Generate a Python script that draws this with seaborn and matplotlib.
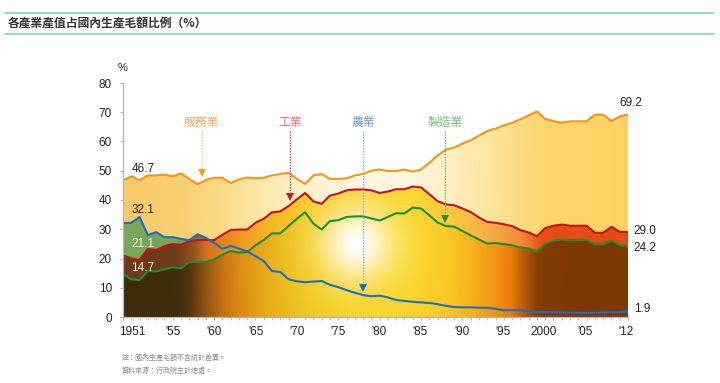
import numpy as np
import pandas as pd
import matplotlib
matplotlib.use("Agg")
import matplotlib.pyplot as plt
from matplotlib.colors import to_rgb
from matplotlib.lines import Line2D
import seaborn as sns

# ---------------- data ----------------
years = list(range(1951, 2013))
services = [46.7, 48.1, 46.8, 48.4, 48.4, 48.7, 48.1, 49.1, 47.2, 45.4,
            46.8, 47.6, 47.6, 45.8, 47.0, 47.7, 47.4, 47.6, 48.4, 48.9,
            49.3, 47.2, 45.5, 48.4, 48.9, 47.2, 47.2, 47.4, 48.4, 48.9,
            50.0, 50.4, 49.9, 49.9, 50.4, 49.7, 50.4, 52.7, 55.2, 57.2,
            57.9, 59.3, 60.4, 62.0, 63.6, 64.4, 65.5, 66.4, 67.6, 68.9,
            70.3, 67.7, 67.0, 66.4, 66.9, 66.9, 66.9, 69.2, 69.2, 67.0,
            68.6, 69.2]
industry = [21.1, 20.0, 19.5, 23.3, 22.9, 24.2, 24.9, 24.7, 25.9, 26.3,
            26.3, 26.3, 28.1, 29.7, 29.9, 29.9, 32.2, 33.6, 35.8, 36.1,
            37.9, 40.2, 42.4, 39.5, 38.7, 41.5, 42.2, 43.3, 43.6, 43.6,
            43.3, 42.4, 42.9, 43.7, 43.7, 44.6, 44.3, 42.0, 39.6, 38.5,
            38.2, 37.1, 35.9, 34.0, 32.5, 32.2, 31.7, 31.1, 29.7, 28.9,
            27.6, 30.4, 31.2, 31.6, 31.2, 31.2, 31.2, 28.8, 28.8, 30.8,
            29.1, 29.0]
manufacturing = [14.7, 12.9, 12.6, 15.7, 15.6, 16.3, 17.0, 16.6, 18.8, 18.8,
                 18.8, 19.7, 21.3, 22.6, 22.0, 22.2, 24.5, 26.3, 28.6, 28.6,
                 31.1, 33.6, 35.8, 31.9, 29.9, 32.8, 33.1, 34.2, 34.4, 34.4,
                 33.7, 33.0, 34.2, 35.5, 35.4, 37.4, 37.1, 34.8, 32.3, 31.1,
                 30.9, 29.4, 27.9, 26.5, 25.1, 25.3, 24.9, 24.5, 23.8, 23.4,
                 22.5, 24.9, 26.1, 26.5, 26.3, 26.3, 26.3, 24.9, 24.8, 26.1,
                 24.6, 24.2]
agriculture = [32.1, 32.2, 34.2, 28.0, 29.0, 27.3, 27.3, 26.7, 26.3, 28.3,
               27.1, 25.4, 23.3, 24.3, 23.4, 22.4, 20.8, 19.1, 15.7, 15.4,
               12.9, 12.2, 11.9, 12.1, 12.3, 11.0, 10.2, 9.2, 8.3, 7.5,
               7.1, 7.3, 6.7, 5.8, 5.5, 5.2, 5.0, 4.8, 4.4, 3.8,
               3.4, 3.3, 3.3, 3.2, 3.1, 2.8, 2.3, 2.3, 2.3, 1.9,
               1.7, 1.7, 1.6, 1.6, 1.5, 1.5, 1.4, 1.5, 1.6, 1.6,
               1.7, 1.9]
series_names = ["服務業", "工業", "製造業", "農業"]
x_tick_labels = ["1951", "'55", "'60", "'65", "'70", "'75", "'80", "'85",
                 "'90", "'95", "2000", "'05", "'12"]
y_ticks = [0, 10, 20, 30, 40, 50, 60, 70, 80]
title = "各產業產值占國內生產毛額比例（%）"
notes = ["註：國內生產毛額不含統計差異。", "資料來源：行政院主計總處。"]

# ---------------- style ----------------
sns.set_theme(style="white")
plt.rcParams["font.family"] = ["Liberation Sans", "Noto Sans CJK TC", "DejaVu Sans"]
CJK = ["Noto Sans CJK TC", "DejaVu Sans"]

line_colors = {"服務業": "#f2961c", "工業": "#c4131d", "製造業": "#1f8d2e", "農業": "#1a6fc4"}

W, H = 720, 383
fig = plt.figure(figsize=(W / 100, H / 100), dpi=100)
ax_l, ax_r, ax_b, ax_t = 123, 628, 317, 83
ax = fig.add_axes([ax_l / W, 1 - ax_b / H, (ax_r - ax_l) / W, (ax_b - ax_t) / H])

x0, x1 = years[0], years[-1]
ax.set_xlim(x0, x1)
ax.set_ylim(0, 80)

# ---------------- gradient fills ----------------
ppy = (ax_r - ax_l) / (x1 - x0)   # px per year
ppv = (ax_b - ax_t) / 80.0        # px per unit
nx, ny = 700, 400
gx = np.linspace(x0, x1, nx)
gy = np.linspace(0, 80, ny)
GX, GY = np.meshgrid(gx, gy)
d2 = ((GX - 1979.3) * ppy) ** 2 + ((GY - 25) * ppv) ** 2
white_a = 0.98 * np.exp(-d2 / 36.0 ** 2)
yellow_b = 0.5 * np.exp(-d2 / 90.0 ** 2)


def ramp(stops):
    pos = [s[0] for s in stops]
    cols = np.array([to_rgb(s[1]) for s in stops])
    row = np.stack([np.interp(gx, pos, cols[:, i]) for i in range(3)], axis=-1)
    return np.repeat(row[None, :, :], ny, axis=0)


def glow(img, strength=1.0):
    yel = np.array(to_rgb("#ffe03a"))
    b = (yellow_b * strength)[..., None]
    a = (white_a * strength)[..., None]
    img = img * (1 - b) + yel * b
    img = img * (1 - a) + 1.0 * a
    return np.clip(img, 0, 1)


services_img = glow(ramp([(1951, "#f8ca68"), (1958, "#f9d072"), (1963, "#fbdb88"),
                          (1968, "#fde8b0"), (1973, "#fff3d8"), (1980, "#fffaf0"),
                          (1986, "#fff8ea"), (1990, "#fff0cc"), (1994, "#fee8aa"),
                          (1998, "#fdde88"), (2002, "#fcd66c"), (2012, "#fcd362")]), 0.3)
agri_img = ramp([(1951, "#79a758"), (1957.5, "#7aa558"), (1959.5, "#8a6c34"),
                 (1962, "#b0702a"), (2012, "#b0702a")])
industry_img = glow(ramp([(1951, "#6c3a19"), (1957.5, "#6e3b18"), (1959.5, "#93501a"),
                          (1961, "#cf6e1c"), (1963, "#e27e1c"), (1966, "#f29a1e"),
                          (1970, "#f8b420"), (1975, "#fcc824"), (1986, "#fdd52e"),
                          (1990, "#fcc83a"), (1993, "#f8b844"), (1996, "#f5a442"),
                          (1999, "#f08a36"), (2000.5, "#ea6a22"), (2001.6, "#e54f15"),
                          (2012, "#e44a12")]))
manuf_img = glow(ramp([(1951, "#3d2b0a"), (1957.5, "#3e2b0a"), (1959.2, "#55340e"),
                       (1961, "#8e5412"), (1963, "#c26c12"), (1965, "#d9830f"),
                       (1968, "#e3a014"), (1972, "#ebbb1a"), (1976, "#f1ca22"),
                       (1985, "#f7d428"), (1990, "#f8c622"), (1993, "#f6b01a"),
                       (1996, "#f29010"), (1998, "#e87808"), (1999.6, "#b45608"),
                       (2001, "#8a4002"), (2002, "#7e3800"), (2012, "#7d3800")]))

layers = [(services, services_img, 1), (agriculture, agri_img, 2),
          (industry, industry_img, 3), (manufacturing, manuf_img, 4)]
for vals, img, z in layers:
    poly = ax.fill_between(years, 0, vals, facecolor="none", edgecolor="none")
    im = ax.imshow(img, extent=(x0, x1, 0, 80), origin="lower", aspect="auto",
                   interpolation="bilinear", zorder=z)
    im.set_clip_path(poly.get_paths()[0], transform=ax.transData)

# ---------------- lines (seaborn) ----------------
df = pd.DataFrame({
    "year": years * 4,
    "value": services + industry + manufacturing + agriculture,
    "series": sum([[n] * len(years) for n in series_names], []),
})
sns.lineplot(data=df, x="year", y="value", hue="series", hue_order=series_names,
             palette=line_colors, legend=False, linewidth=1.5, ax=ax, zorder=6)
for ln in ax.lines:
    ln.set_solid_joinstyle("round")

ax.set_xlim(x0, x1)
ax.set_ylim(0, 80)
ax.set_xlabel("")
ax.set_ylabel("")

# ---------------- axes styling ----------------
for s in ["top", "right"]:
    ax.spines[s].set_visible(False)
for s in ["left", "bottom"]:
    ax.spines[s].set_color("#b5b5b5")
    ax.spines[s].set_linewidth(0.9)
    ax.spines[s].set_zorder(7)

ax.set_yticks(y_ticks)
ax.set_yticklabels([str(v) for v in y_ticks])
ax.tick_params(axis="y", which="major", length=2.5, width=0.8, color="#b0b0b0",
               direction="out", pad=5.5, labelsize=8.5, labelcolor="#222222", left=True)
label_pos = np.linspace(1952.1, 2011.8, len(x_tick_labels))
ax.set_xticks(label_pos)
ax.set_xticklabels(x_tick_labels)
ax.set_xticks(years, minor=True)
ax.tick_params(axis="x", which="major", length=0, pad=6.5, labelsize=8.5,
               labelcolor="#222222")
ax.tick_params(axis="x", which="minor", length=2.5, width=0.6, color="#b0b0b0",
               direction="out", bottom=True)
ax.grid(False)

ax.text(x0, 83.5, "%", ha="center", va="bottom", fontsize=8, color="#222222",
        clip_on=False)

# ---------------- end value labels ----------------
lbl_kw = dict(fontsize=8.5, va="center", zorder=8, clip_on=False)
ax.text(x0 + 1.0, services[0] + 3.9, f"{services[0]:.1f}", color="#222222", ha="left", **lbl_kw)
ax.text(x0 + 1.0, agriculture[0] + 4.5, f"{agriculture[0]:.1f}", color="#222222", ha="left", **lbl_kw)
ax.text(x0 + 1.0, industry[0] + 3.9, f"{industry[0]:.1f}", color="#f4f4e8", ha="left", **lbl_kw)
ax.text(x0 + 1.0, manufacturing[0] + 2.1, f"{manufacturing[0]:.1f}", color="#f4f4e8", ha="left", **lbl_kw)
ax.text(x1 + 0.3, services[-1] + 4.1, f"{services[-1]:.1f}", color="#222222", ha="center", **lbl_kw)
ax.text(x1 + 0.7, industry[-1] + 0.5, f"{industry[-1]:.1f}", color="#222222", ha="left", **lbl_kw)
ax.text(x1 + 0.7, manufacturing[-1] - 0.5, f"{manufacturing[-1]:.1f}", color="#222222", ha="left", **lbl_kw)
ax.text(x1 + 0.7, agriculture[-1] + 0.7, f"{agriculture[-1]:.1f}", color="#222222", ha="left", **lbl_kw)

# ---------------- series annotations with dotted arrows ----------------
ann = [
    ("服務業", 1960.5, 49.3, "#f5a862", "#f7bf6a", "#f0a028"),
    ("工業", 1971.2, 41.1, "#e8707a", "#cc3a44", "#c41820"),
    ("農業", 1980.0, 10.0, "#6a9ad0", "#88b6e2", "#1a6cc0"),
    ("製造業", 1989.9, 33.5, "#72c27a", "#6cba70", "#21902d"),
]
for name, xx, head_y, tcol, scol, hcol in ann:
    ax.text(xx, 66.6, name, ha="center", va="center", fontsize=8.5, color=tcol,
            family=CJK, zorder=9)
    ax.plot([xx, xx], [63.6, head_y + 0.8], linestyle=(0, (1, 1)), color=scol,
            linewidth=1.0, zorder=9)
    ax.plot([xx], [head_y], marker="v", markersize=6, color=hcol,
            markeredgewidth=0, zorder=9)

# ---------------- title, rules, notes ----------------
fig.add_artist(Line2D([5 / W, 714 / W], [1 - 13 / H] * 2, color="#8fd5c7", linewidth=1.3))
fig.add_artist(Line2D([5 / W, 714 / W], [1 - 34 / H] * 2, color="#8fd5c7", linewidth=1.3))
fig.text(8 / W, 1 - 23.5 / H, title, fontsize=8.5, fontweight="bold", color="#333333",
         family=CJK, va="center", ha="left")
fig.text(122 / W, 1 - 358 / H, notes[0], fontsize=5, color="#8a8a8a", family=CJK, va="center")
fig.text(122 / W, 1 - 371 / H, notes[1], fontsize=5, color="#8a8a8a", family=CJK, va="center")

fig.savefig("out.png", dpi=100)
